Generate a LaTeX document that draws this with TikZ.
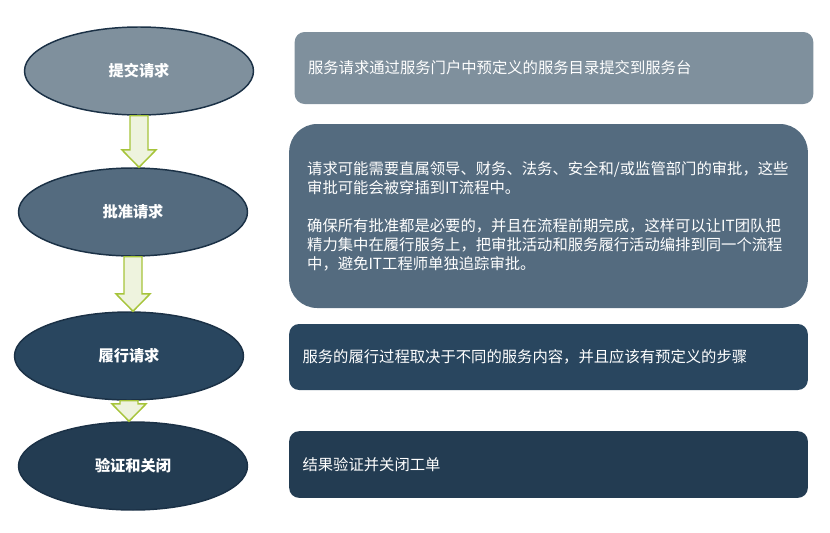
\documentclass[tikz,border=0pt]{standalone}
\usepackage{fontspec}
\usepackage{tikz}
\usetikzlibrary{arrows,shapes,positioning,calc}
\newfontfamily\cjk{Noto Sans CJK SC}
\definecolor{stagegray}{RGB}{127,144,157}
\definecolor{stageslate}{RGB}{84,107,127}
\definecolor{stagenavy}{RGB}{41,70,95}
\definecolor{stagedark}{RGB}{35,60,82}
\definecolor{stageline}{RGB}{27,49,70}
\definecolor{flowgreen}{RGB}{166,196,58}
\definecolor{flowfill}{RGB}{238,243,222}
\tikzstyle{stage} = [ellipse, draw=stageline, line width=1.1pt, minimum width=171.75pt, minimum height=66pt, inner sep=0pt, text=white, font=\cjk\bfseries\fontsize{11.4}{13}\selectfont]
\tikzstyle{note} = [rectangle, rounded corners=7.5pt, text width=369pt, inner xsep=10pt, align=left, text=white, font=\cjk\fontsize{11.5}{14.25}\selectfont]
\tikzstyle{flow} = [draw=flowgreen, line width=1.1pt, fill=flowfill, line join=miter]
\newcommand{\flowarrow}[2]{%
  \draw[flow] let \p1=(#1.south), \p2=(#2.north) in
    (\x1-6.75pt,\y1) -- (\x1-6.75pt,\y2+13pt) -- (\x1-12.75pt,\y2+13pt) -- (\x1,\y2)
    -- (\x1+12.75pt,\y2+13pt) -- (\x1+6.75pt,\y2+13pt) -- (\x1+6.75pt,\y1) -- cycle;}

\begin{document}
\begin{tikzpicture}[x=0.75pt, y=-0.75pt]
\useasboundingbox (0,0) rectangle (830,532);
% Stages
\node (submit) [stage, fill=stagegray] at (139,71) {提交请求};
\node (approve) [stage, below of=submit, node distance=105.75pt, xshift=-4.5pt, fill=stageslate] {批准请求};
\node (fulfil) [stage, below of=approve, node distance=108pt, xshift=-3pt, fill=stagenavy] {履行请求};
\node (close) [stage, below of=fulfil, node distance=82.5pt, xshift=3pt, fill=stagedark] {验证和关闭};

% Notes
\node (submitnote) [note, fill=stagegray, minimum height=54pt] at (554,68) {服务请求通过服务门户中预定义的服务目录提交到服务台};
\node (approvenote) [note, fill=stageslate, rounded corners=21pt, minimum height=138pt, inner xsep=13.5pt, text width=362pt] at (548.5,216) {请求可能需要直属领导、财务、法务、安全和/或监管部门的审批，这些\\
审批可能会被穿插到IT流程中。\\[14.25pt]
确保所有批准都是必要的，并且在流程前期完成，这样可以让IT团队把\\
精力集中在履行服务上，把审批活动和服务履行活动编排到同一个流程\\
中，避免IT工程师单独追踪审批。};
\node (fulfilnote) [note, fill=stagenavy, minimum height=49.5pt] at (548.5,357) {服务的履行过程取决于不同的服务内容，并且应该有预定义的步骤};
\node (closenote) [note, fill=stagedark, minimum height=50pt] at (548.5,464.5) {结果验证并关闭工单};

% Flow
\flowarrow{submit}{approve}
\flowarrow{approve}{fulfil}
\flowarrow{fulfil}{close}
\end{tikzpicture}
\end{document}
